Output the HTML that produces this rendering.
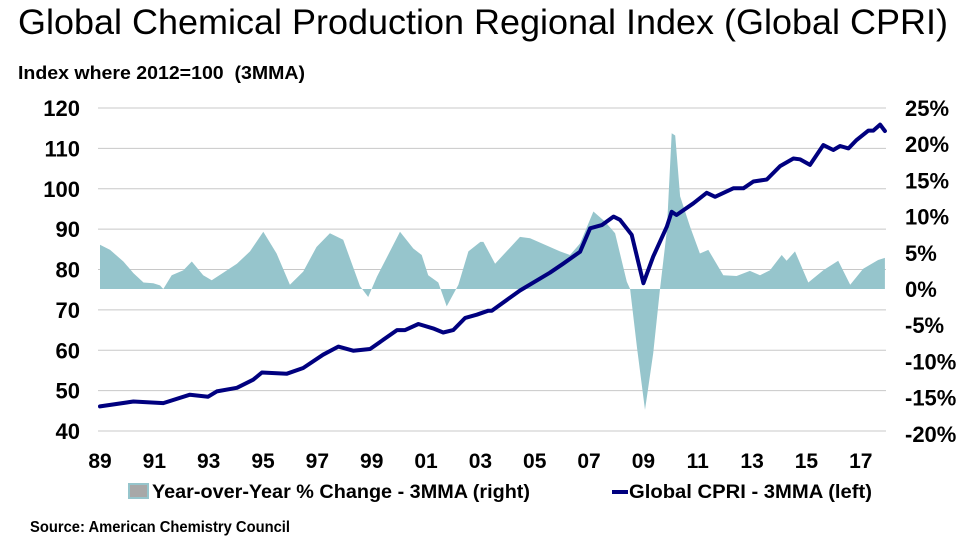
<!DOCTYPE html>
<html><head><meta charset="utf-8"><style>
body{margin:0;background:#fff;}
svg text{font-family:"Liberation Sans",Arial,sans-serif;}
</style></head><body>
<svg width="967" height="547" viewBox="0 0 967 547" id="chart">
<text x="18" y="34" font-size="35" textLength="930" lengthAdjust="spacingAndGlyphs" fill="#000">Global Chemical Production Regional Index (Global CPRI)</text>
<text x="18" y="79" font-size="18" font-weight="bold" textLength="287" lengthAdjust="spacingAndGlyphs" xml:space="preserve">Index where 2012=100  (3MMA)</text>
<g id="grid"></g><g id="bars"></g><g id="line"></g><g id="axes"></g>
<g>
<rect x="129" y="484" width="19" height="14" fill="#a8a8a8" stroke="#96c5cc" stroke-width="2"/>
<text x="152" y="498" font-size="19" font-weight="bold" textLength="378" lengthAdjust="spacingAndGlyphs">Year-over-Year % Change - 3MMA (right)</text>
<line x1="612" y1="492" x2="628" y2="492" stroke="#00007f" stroke-width="4"/>
<text x="629" y="498" font-size="19" font-weight="bold" textLength="243" lengthAdjust="spacingAndGlyphs">Global CPRI - 3MMA (left)</text>
</g>
<text x="30" y="532" font-size="16" font-weight="bold" textLength="260" lengthAdjust="spacingAndGlyphs">Source: American Chemistry Council</text>
</svg>
<script>
const leftTicks=[40,50,60,70,80,90,100,110,120];
const rightTicks=["-20%","-15%","-10%","-5%","0%","5%","10%","15%","20%","25%"];
const rightTickValues=[-20,-15,-10,-5,0,5,10,15,20,25];
const xTickLabels=["89","91","93","95","97","99","01","03","05","07","09","11","13","15","17"];
const xTickYears=[1989,1991,1993,1995,1997,1999,2001,2003,2005,2007,2009,2011,2013,2015,2017];
const cpriYears=[1989.0,1990.23,1991.33,1992.31,1992.98,1993.3,1994.04,1994.64,1994.96,1995.88,1996.48,1997.21,1997.77,1998.32,1998.94,1999.93,2000.23,2000.72,2001.26,2001.63,2002.0,2002.44,2002.87,2003.29,2003.42,2004.46,2005.56,2006.04,2006.67,2007.04,2007.47,2007.9,2008.14,2008.57,2009.0,2009.36,2009.86,2010.04,2010.22,2010.84,2011.33,2011.64,2012.31,2012.68,2013.05,2013.54,2014.03,2014.52,2014.76,2015.13,2015.62,2015.99,2016.24,2016.55,2016.85,2017.28,2017.46,2017.71,2017.89];
const cpriValues=[46.1,47.3,46.9,49.0,48.5,49.8,50.7,52.7,54.5,54.2,55.6,58.9,60.9,59.9,60.3,65.0,65.0,66.5,65.4,64.4,65.0,68.0,68.8,69.8,69.8,74.8,79.2,81.4,84.4,90.2,91.0,93.1,92.3,88.6,76.6,83.2,90.6,94.3,93.5,96.4,99.0,98.0,100.1,100.1,101.8,102.3,105.6,107.5,107.3,105.9,110.8,109.6,110.6,110.0,112.1,114.4,114.4,115.9,114.3];
const yoyYears=[1989.0,1989.37,1989.86,1990.23,1990.6,1990.96,1991.21,1991.33,1991.64,1992.07,1992.38,1992.8,1993.11,1993.48,1994.04,1994.52,1995.01,1995.5,1995.99,1996.48,1996.97,1997.46,1997.95,1998.57,1998.87,1999.19,2000.04,2000.53,2000.84,2001.08,2001.45,2001.76,2002.19,2002.56,2003.0,2003.11,2003.54,2004.46,2004.83,2005.93,2006.3,2006.67,2007.16,2007.59,2007.96,2008.39,2008.51,2008.76,2009.06,2009.36,2009.61,2009.86,2010.04,2010.17,2010.35,2010.72,2011.08,2011.39,2011.94,2012.43,2012.92,2013.29,2013.66,2014.09,2014.27,2014.58,2015.07,2015.62,2016.17,2016.61,2017.09,2017.64,2017.89];
const yoyValues=[6.1,5.4,3.8,2.2,0.9,0.8,0.5,0.0,1.9,2.6,3.8,1.9,1.2,2.1,3.5,5.2,7.9,4.9,0.6,2.4,5.8,7.7,6.8,0.4,-1.1,1.7,7.9,5.6,4.7,1.9,0.9,-2.4,0.6,5.2,6.5,6.5,3.5,7.2,7.0,5.2,4.7,6.3,10.7,9.3,7.7,1.0,0.0,-8.0,-16.7,-8.9,0.0,8.0,21.5,21.2,12.8,8.6,4.9,5.4,1.9,1.8,2.5,1.9,2.6,4.7,3.9,5.2,0.9,2.6,3.9,0.6,2.8,4.0,4.3];

const NS='http://www.w3.org/2000/svg';
const X0=100,PX=27.17,L=98,R=886;
const xs=y=>X0+(y-1989)*PX;
const yl=v=>108+(120-v)*(323/80);
const yr=p=>289-p*7.24;
function mk(tag,attrs,parent){const e=document.createElementNS(NS,tag);for(const k in attrs)e.setAttribute(k,attrs[k]);parent.appendChild(e);return e;}
const grid=document.getElementById('grid'),axes=document.getElementById('axes');
leftTicks.forEach(v=>{
  const g=mk('line',{x1:L,x2:R,y1:yl(v),y2:yl(v),stroke:'#c8c8c8','stroke-width':1},grid);
  
  
  const t=mk('text',{x:80,y:yl(v)+8,'text-anchor':'end','font-size':22,'font-weight':'bold'},axes);
  t.textContent=v;
  
  
});
rightTicks.forEach((s,i)=>{
  const t=mk('text',{x:905,y:yr(rightTickValues[i])+8,'font-size':22,'font-weight':'bold'},axes);
  t.textContent=s;
  
  
});
xTickLabels.forEach((s,i)=>{
  const t=mk('text',{x:xs(xTickYears[i]),y:468,'text-anchor':'middle','font-size':21,'font-weight':'bold'},axes);
  t.textContent=s;
  
  
});
let d='M'+xs(yoyYears[0])+','+yr(0);
yoyYears.forEach((y,i)=>{d+=' L'+xs(y).toFixed(1)+','+yr(yoyValues[i]).toFixed(1);});
d+=' L'+xs(yoyYears[yoyYears.length-1]).toFixed(1)+','+yr(0)+' Z';
const area=mk('path',{d:d,fill:'#96c5cc'},document.getElementById('bars'));


const pts=cpriYears.map((y,i)=>xs(y).toFixed(1)+','+yl(cpriValues[i]).toFixed(1)).join(' ');
const ln=mk('polyline',{points:pts,fill:'none',stroke:'#00007f','stroke-width':4,'stroke-linejoin':'round','stroke-linecap':'round'},document.getElementById('line'));


</script>
</body></html>
